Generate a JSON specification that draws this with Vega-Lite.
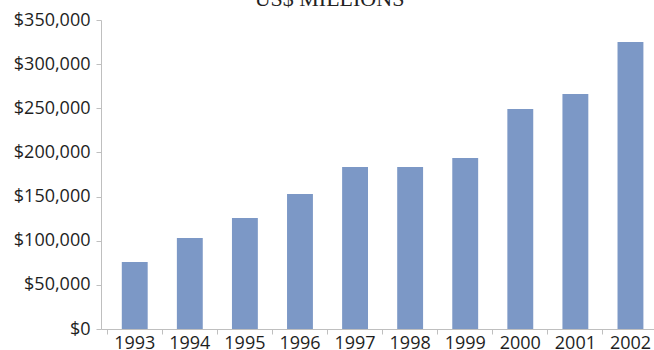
{
  "$schema": "https://vega.github.io/schema/vega-lite/v6.json",
  "width": 557,
  "height": 309,
  "autosize": {"type": "none"},
  "padding": {"left": 101, "top": 20, "right": 0, "bottom": 21},
  "background": "white",
  "title": {
    "text": "US$ MILLIONS",
    "font": "Liberation Serif",
    "fontSize": 22,
    "fontWeight": "normal",
    "color": "#222222",
    "anchor": "middle",
    "frame": "group",
    "baseline": "alphabetic",
    "offset": 2,
    "dx": -50,
    "dy": 19
  },
  "config": {
    "view": {"stroke": null},
    "axis": {
      "labelFont": "Open Sans",
      "labelFontSize": 18,
      "labelColor": "#1e1e1e",
      "domainColor": "#bfbfbf",
      "tickColor": "#bfbfbf",
      "grid": false,
      "title": null
    }
  },
  "data": {
    "values": [
      {"year": "1993", "value": 75900},
      {"year": "1994", "value": 103100},
      {"year": "1995", "value": 125700},
      {"year": "1996", "value": 152900},
      {"year": "1997", "value": 183500},
      {"year": "1998", "value": 183500},
      {"year": "1999", "value": 193700},
      {"year": "2000", "value": 249200},
      {"year": "2001", "value": 266200},
      {"year": "2002", "value": 325100}
    ]
  },
  "mark": {"type": "bar", "color": "#7c98c6", "width": {"band": 0.47}},
  "encoding": {
    "x": {
      "field": "year",
      "type": "ordinal",
      "scale": {"paddingInner": 0, "paddingOuter": 0.0563, "align": 1},
      "axis": {
        "labelAngle": 0,
        "bandPosition": 0,
        "tickSize": 5,
        "labelPadding": 0,
        "labelBaseline": "top"
      }
    },
    "y": {
      "field": "value",
      "type": "quantitative",
      "scale": {"domain": [0, 350000], "nice": false},
      "axis": {
        "values": [0, 50000, 100000, 150000, 200000, 250000, 300000, 350000],
        "format": "$,.0f",
        "tickSize": 5,
        "labelPadding": 6
      }
    }
  }
}
